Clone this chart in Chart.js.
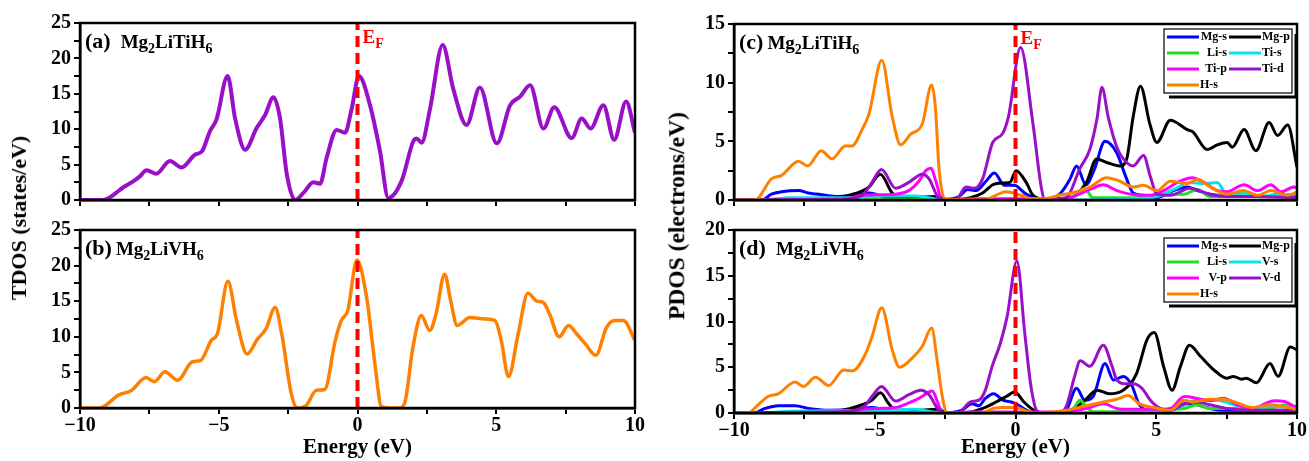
<!DOCTYPE html>
<html>
<head>
<meta charset="utf-8">
<script src="https://cdn.jsdelivr.net/npm/chart.js@4.4.0/dist/chart.umd.min.js"></script>
<style>
  body { margin: 0; background: #fff; width: 1309px; height: 461px; position: relative; overflow: hidden; }
  canvas { position: absolute; }
  .ytitle {
    position: absolute; white-space: nowrap; line-height: 1;
    font-family: "Liberation Serif", "Times New Roman", serif; font-weight: bold; color: #000;
    transform: translate(-50%, -50%) rotate(-90deg);
  }
</style>
</head>
<body>
<canvas id="chartA" width="660" height="215" style="left:0;top:0"></canvas>
<canvas id="chartB" width="660" height="246" style="left:0;top:215px"></canvas>
<canvas id="chartC" width="649" height="215" style="left:660px;top:0"></canvas>
<canvas id="chartD" width="649" height="246" style="left:660px;top:215px"></canvas>
<div class="ytitle" style="left:19px;top:218px;font-size:22px">TDOS (states/eV)</div>
<div class="ytitle" style="left:677px;top:216px;font-size:23.5px">PDOS (electrons/eV)</div>
<script>
// Fermi level and axis limits
var fermiLevel = 0;
var energyMin = -10, energyMax = 10;
var tdosMax = 25, pdosTiMax = 15, pdosVMax = 20;

// (a) TDOS Mg2LiTiH6
var tdosTiE = [-10, -9.2, -9.0, -8.7, -8.44, -8.1, -7.85, -7.6, -7.25, -6.76, -6.34, -5.86, -5.6, -5.32, -5.08, -4.68, -4.41, -4.05, -3.63, -3.33, -3.03, -2.79, -2.55, -2.25, -1.95, -1.59, -1.35, -1.11, -0.75, -0.45, -0.21, 0.05, 0.45, 0.81, 1.11, 1.59, 2.01, 2.13, 2.31, 2.61, 3.07, 3.45, 3.93, 4.41, 5.02, 5.5, 5.86, 6.22, 6.7, 7.09, 7.72, 8.08, 8.4, 8.86, 9.25, 9.68, 10];
var tdosTi = [0, 0, 0.2, 1.0, 1.8, 2.6, 3.3, 4.2, 3.7, 5.5, 4.6, 6.4, 6.9, 9.7, 11.4, 17.5, 11.5, 7.1, 10.2, 12, 14.5, 11.5, 3.7, 0, 1.0, 2.5, 2.3, 6.0, 9.9, 9.5, 12.9, 17.5, 13.4, 6.9, 0.3, 2.7, 8.3, 8.7, 8.1, 12.8, 21.9, 15.7, 10.6, 15.9, 8.0, 13.4, 14.6, 16.2, 10.1, 13.1, 8.75, 11.5, 10.1, 13.4, 8.5, 13.9, 9.5];

// (b) TDOS Mg2LiVH6
var tdosVE = [-10, -9.29, -8.6, -8.15, -7.62, -7.32, -6.94, -6.48, -5.95, -5.65, -5.27, -5.05, -4.67, -4.36, -3.98, -3.6, -3.3, -2.97, -2.73, -2.39, -2.17, -1.86, -1.48, -1.18, -0.8, -0.58, -0.35, -0.02, 0.33, 0.64, 0.86, 1.2, 1.5, 1.7, 2.0, 2.3, 2.6, 2.83, 3.14, 3.36, 3.59, 4.05, 4.58, 4.95, 5.18, 5.44, 5.79, 6.14, 6.47, 6.7, 6.92, 7.27, 7.6, 7.9, 8.21, 8.59, 8.97, 9.27, 9.58, 10];
var tdosV = [0, 0, 1.85, 2.45, 4.3, 3.7, 5.1, 3.9, 6.5, 6.7, 9.5, 10.4, 17.8, 12.3, 7.6, 9.7, 11.1, 14.1, 10.4, 2.1, 0, 0.3, 2.5, 2.6, 9.5, 12.3, 13.7, 20.8, 15.5, 5.8, 0.2, 0, 0, 0.7, 8.6, 13.0, 10.9, 13.2, 18.8, 15.0, 11.6, 12.7, 12.5, 12.3, 9.5, 4.4, 10.4, 16.1, 15.0, 14.8, 13.2, 10.0, 11.6, 10.4, 9.0, 7.4, 11.3, 12.3, 12.3, 9.5];

// (c) PDOS Mg2LiTiH6
var tiLabels = ["Mg-s", "Mg-p", "Li-s", "Ti-s", "Ti-p", "Ti-d", "H-s"];
var msTiE = [-10, -9.0, -8.67, -8.31, -7.71, -7.36, -6.88, -6.29, -5.69, -5.21, -4.98, -4.62, -3.5, -2.6, -2.0, -1.7, -1.4, -1.05, -0.75, -0.39, -0.05, 0.38, 0.98, 1.57, 1.93, 2.17, 2.5, 2.8, 3.18, 3.6, 3.9, 4.18, 4.55, 5.02, 5.62, 6.1, 6.46, 6.93, 7.5, 8.5, 9.5, 10];
var msTi = [0, 0, 0.5, 0.7, 0.8, 0.6, 0.45, 0.3, 0.4, 0.6, 0.5, 0.2, 0.1, 0.05, 0.3, 0.9, 0.8, 1.6, 2.3, 1.25, 1.25, 0.5, 0, 0.5, 1.75, 2.9, 1.3, 2.6, 5.0, 4.0, 2.1, 0.6, 0.4, 0.2, 0.8, 1.1, 0.8, 0.5, 0.35, 0.3, 0.3, 0.3];
var mpTiE = [-10, -6.7, -5.69, -5.21, -4.8, -4.38, -4.02, -3.3, -2.7, -2.5, -1.6, -1.17, -0.81, -0.45, -0.2, 0.02, 0.38, 0.62, 0.99, 1.93, 2.52, 2.88, 3.24, 3.71, 3.95, 4.18, 4.44, 4.77, 5.02, 5.5, 6.1, 6.3, 6.81, 7.17, 7.52, 7.7, 8.12, 8.54, 9.01, 9.31, 9.67, 10];
var mpTi = [0, 0.1, 0.55, 1.1, 2.2, 0.6, 0.2, 0.25, 0.3, 0, 0.2, 0.6, 1.3, 1.45, 1.5, 2.5, 1.5, 0.4, 0.1, 0.2, 1.5, 3.5, 3.2, 2.9, 3.5, 7.1, 9.7, 6.5, 4.9, 6.8, 6.0, 5.8, 4.3, 4.7, 4.9, 4.5, 6.0, 4.2, 6.6, 5.5, 6.4, 2.8];
var lsTiE = [-10, -9.0, -3.0, -2.6, 1.8, 2.17, 2.46, 2.75, 4.5, 5.5, 6.0, 6.46, 6.9, 7.5, 8.1, 8.8, 9.4, 9.9, 10];
var lsTi = [0, 0, 0.05, 0, 0, 0.5, 1.0, 0.2, 0.2, 0.5, 0.5, 0.9, 0.3, 0.4, 0.6, 0.3, 0.6, 1.1, 1.0];
var tsTiE = [-10, -9.0, -8.0, -6.0, -4.5, -3.55, -3.0, -2.6, 2.0, 4.0, 5.02, 5.7, 6.2, 6.7, 7.17, 7.5, 8.1, 8.7, 9.3, 9.9, 10];
var tsTi = [0, 0, 0.2, 0.2, 0.35, 0.35, 0.15, 0, 0, 0.1, 0.3, 1.0, 1.5, 1.4, 1.5, 0.5, 0.6, 0.3, 0.4, 0.5, 0.5];
var tpTiE = [-10, -6.0, -5.45, -4.86, -4.26, -3.79, -3.43, -3.19, -3.0, -2.83, -2.6, -1.5, 1.0, 1.8, 2.17, 2.64, 3.12, 3.6, 4.06, 4.79, 5.26, 5.85, 6.27, 6.7, 7.17, 7.5, 8.12, 8.6, 9.07, 9.43, 9.9, 10];
var tpTi = [0, 0.1, 0.4, 0.45, 0.5, 0.8, 1.6, 2.5, 2.7, 1.6, 0, 0.1, 0.1, 0.1, 0.4, 0.9, 1.3, 0.8, 0.5, 0.4, 0.8, 1.6, 1.9, 1.5, 0.8, 0.7, 1.3, 0.8, 1.3, 0.7, 1.1, 1.0];
var tdTiE = [-10, -6.64, -5.45, -5.1, -4.76, -4.26, -3.79, -3.31, -3.07, -2.77, -2.6, -2.12, -1.76, -1.46, -1.17, -0.81, -0.45, -0.25, 0.18, 0.62, 0.92, 1.05, 1.8, 2.29, 2.64, 2.9, 3.07, 3.3, 3.6, 3.83, 4.18, 4.55, 4.79, 5.02, 5.5, 6.2, 7.0, 7.5, 8.5, 10];
var tdTi = [0, 0, 0.4, 1.5, 2.6, 1.0, 1.5, 2.2, 1.8, 0.3, 0, 0, 1.1, 1.0, 1.8, 4.9, 5.7, 7.1, 13.0, 6.5, 1.0, 0, 0.2, 2.7, 4.3, 7.0, 9.6, 7.0, 4.5, 3.5, 2.9, 3.8, 2.0, 0.5, 0.4, 1.0, 0.4, 0.3, 0.3, 0.2];
var hsTiE = [-10, -9.26, -8.67, -8.31, -7.71, -7.38, -6.9, -6.52, -6.05, -5.81, -5.45, -5.21, -4.75, -4.38, -4.08, -3.73, -3.31, -2.98, -2.85, -2.71, -2.5, -1.1, -0.7, -0.34, 0.2, 0.6, 0.96, 1.57, 2.17, 2.64, 3.24, 3.71, 4.18, 4.54, 5.02, 5.5, 6.1, 6.46, 6.93, 7.52, 8.1, 8.6, 9.07, 9.67, 10];
var hsTi = [0, 0, 1.8, 2.1, 3.3, 2.9, 4.2, 3.5, 4.6, 4.6, 6.0, 7.3, 11.9, 7.1, 4.7, 5.6, 6.5, 9.8, 8.0, 2.5, 0.1, 0, 0.4, 0.7, 0.4, 0.1, 0.1, 0.4, 0.7, 1.1, 1.9, 1.6, 1.1, 1.25, 0.8, 1.6, 1.4, 1.75, 1.1, 0.5, 0.8, 0.4, 0.8, 0.4, 0.7];

// (d) PDOS Mg2LiVH6
var vLabels = ["Mg-s", "Mg-p", "Li-s", "V-s", "V-p", "V-d", "H-s"];
var msVE = [-10, -9.3, -8.9, -8.43, -7.83, -7.36, -6.64, -5.69, -5.1, -4.6, -3.5, -2.6, -1.9, -1.55, -1.3, -1.07, -0.77, -0.45, -0.15, 0.02, 0.4, 0.7, 1.5, 1.8, 2.17, 2.46, 2.76, 3.18, 3.48, 3.83, 4.12, 4.4, 4.79, 5.5, 6.0, 6.46, 6.9, 7.5, 8.5, 10];
var msV = [0, 0, 0.5, 0.8, 0.8, 0.5, 0.3, 0.4, 0.6, 0.3, 0.15, 0, 0.3, 1.0, 0.8, 1.6, 2.1, 1.4, 1.2, 1.0, 0.3, 0, 0, 0.3, 2.7, 1.4, 1.8, 5.4, 3.6, 4.0, 3.1, 0.9, 0.3, 0.3, 1.0, 0.9, 0.5, 0.3, 0.3, 0.3];
var mpVE = [-10, -6.6, -5.93, -5.45, -5.1, -4.8, -4.5, -4.26, -3.5, -2.7, -2.5, -1.6, -1.17, -0.69, -0.33, -0.03, 0.3, 0.65, 0.9, 1.7, 2.4, 2.9, 3.33, 3.83, 4.3, 4.67, 4.93, 5.26, 5.56, 5.86, 6.18, 6.57, 7.05, 7.5, 7.74, 8.04, 8.2, 8.56, 9.04, 9.33, 9.76, 10];
var mpV = [0, 0.1, 0.45, 0.9, 1.4, 2.2, 1.0, 0.3, 0.3, 0.4, 0, 0.1, 0.5, 1.2, 1.8, 2.3, 1.2, 0.3, 0, 0, 1.2, 2.5, 2.1, 2.5, 4.3, 8.0, 8.8, 5.1, 2.5, 5.1, 7.4, 6.2, 4.7, 3.8, 4.0, 3.7, 3.8, 3.3, 5.4, 4.0, 7.2, 6.9];
var lsVE = [-10, -9.0, -3.0, -2.6, 1.8, 2.06, 2.29, 2.52, 2.75, 4.5, 5.5, 6.0, 6.46, 6.9, 7.5, 8.1, 8.8, 9.67, 10];
var lsV = [0, 0, 0.05, 0, 0, 0.5, 1.4, 0.7, 0.15, 0.2, 0.4, 0.5, 0.9, 0.5, 0.5, 0.5, 0.4, 0.9, 0.7];
var vsE = [-10, -9.0, -8.0, -6.0, -4.5, -3.55, -3.0, -2.6, 2.0, 4.0, 5.0, 5.7, 6.46, 7.17, 7.6, 8.1, 8.6, 9.07, 9.9, 10];
var vs = [0, 0, 0.2, 0.25, 0.3, 0.4, 0.15, 0, 0, 0.1, 0.2, 0.5, 1.4, 1.4, 1.05, 0.6, 0.5, 0.8, 0.6, 0.6];
var vpE = [-10, -6.0, -5.45, -4.86, -4.26, -3.79, -3.43, -3.07, -2.95, -2.77, -2.6, -1.5, 1.0, 1.8, 2.17, 2.64, 3.12, 3.6, 4.06, 4.9, 5.5, 6.0, 6.46, 6.9, 7.4, 7.88, 8.4, 9.2, 9.55, 10];
var vp = [0, 0.1, 0.4, 0.5, 0.6, 1.1, 1.6, 2.3, 2.4, 1.2, 0, 0.1, 0.1, 0.1, 0.3, 0.6, 1.0, 0.5, 0.4, 0.4, 0.5, 1.8, 1.6, 1.35, 1.6, 0.9, 0.5, 1.35, 1.25, 0.5];
var vdE = [-10, -6.64, -5.45, -5.1, -4.76, -4.26, -3.79, -3.37, -3.07, -2.77, -2.55, -2.0, -1.9, -1.6, -1.3, -1.07, -0.83, -0.54, -0.3, 0.05, 0.33, 0.55, 0.77, 1.0, 1.5, 1.8, 2.1, 2.3, 2.64, 3.12, 3.43, 3.6, 3.9, 4.18, 4.49, 4.79, 5.14, 5.5, 6.0, 6.46, 6.9, 7.5, 8.5, 10];
var vd = [0, 0.1, 0.5, 1.8, 2.9, 1.3, 2.0, 2.5, 2.0, 0.5, 0, 0, 0.3, 1.2, 1.4, 2.5, 5.1, 7.6, 10.5, 16.6, 8.7, 2.9, 0.2, 0, 0, 0.7, 4.0, 5.7, 5.1, 7.4, 5.1, 3.6, 3.2, 3.2, 2.7, 1.4, 0.5, 0.3, 1.0, 1.2, 0.9, 0.5, 0.3, 0.3];
var hsVE = [-10, -9.5, -9.14, -8.79, -8.43, -7.83, -7.54, -7.1, -6.64, -6.1, -5.79, -5.33, -5.1, -4.75, -4.38, -4.12, -3.67, -3.31, -2.98, -2.77, -2.6, -2.43, -1.2, -0.8, -0.4, 0.02, 0.4, 0.7, 1.8, 2.52, 3.12, 3.6, 4.0, 4.4, 4.9, 5.5, 6.0, 6.3, 6.9, 7.4, 7.8, 8.4, 9.07, 9.67, 10];
var hsV = [0, 0, 0.9, 1.8, 2.1, 3.4, 2.9, 3.9, 3.0, 4.7, 4.6, 6.45, 8.3, 11.5, 6.9, 5.0, 6.0, 7.3, 9.3, 5.4, 1.8, 0, 0, 0.5, 0.6, 0.6, 0.2, 0, 0.3, 0.8, 1.2, 1.5, 1.9, 1.0, 0.6, 0.3, 1.4, 1.2, 1.5, 1.5, 1.2, 0.6, 0.9, 0.6, 0.4];

var FONT = '"Liberation Serif", "Times New Roman", serif';
var pdosColors = ["#0000FF", "#000000", "#22DD22", "#00E5EE", "#FF00FF", "#9A10C8", "#FF8000"];
// higher number = drawn further below
var pdosOrder = [7, 6, 5, 4, 3, 2, 1];

function curve(xs, ys) {
  return xs.map(function (x, i) { return { x: x, y: ys[i] }; });
}

function series(label, xs, ys, color, width, order) {
  return {
    label: label, data: curve(xs, ys), borderColor: color, borderWidth: width,
    pointRadius: 0, fill: false, cubicInterpolationMode: "monotone", order: order,
  };
}

function fermiSet(top) {
  return {
    label: "EF", isFermi: true, data: [{ x: fermiLevel, y: 0 }, { x: fermiLevel, y: top }],
    borderColor: "#FF0000", borderWidth: 4, borderDash: [11, 6], pointRadius: 0, order: 0,
  };
}

// text with subscripts, e.g. Mg2LiTiH6
function drawParts(ctx, parts, x, y, size, color) {
  ctx.fillStyle = color;
  parts.forEach(function (p) {
    var sub = p[1];
    ctx.font = "bold " + (sub ? Math.round(size * 0.72) : size) + "px " + FONT;
    ctx.fillText(p[0], x, sub ? y + size * 0.28 : y);
    x += ctx.measureText(p[0]).width;
  });
}

function formulaParts(text) {
  return text.split(/(\d+)/).filter(function (s) { return s; }).map(function (s) {
    return [s, /^\d+$/.test(s)];
  });
}

var decorPlugin = {
  id: "decor",
  afterDatasetsDraw: function (chart, args, opts) {
    var ctx = chart.ctx, a = chart.chartArea;
    ctx.save();
    ctx.strokeStyle = "#000";
    ctx.lineWidth = 2.5;
    ctx.strokeRect(a.left, a.top, a.right - a.left, a.bottom - a.top);

    ctx.textBaseline = "alphabetic";
    ctx.textAlign = "left";
    ctx.fillStyle = "#000";
    ctx.font = "bold 22px " + FONT;
    var ly = a.top + 25;
    ctx.fillText(opts.tag, a.left + 5, ly);
    var fx = a.left + 5 + ctx.measureText(opts.tag).width + opts.gap;
    drawParts(ctx, formulaParts(opts.formula), fx, ly, 19, "#000");

    if (opts.showEF) {
      var xf = chart.scales.x.getPixelForValue(fermiLevel);
      drawParts(ctx, [["E", false], ["F", true]], xf + 5, a.top + 20, 19, "#FF0000");
    }

    if (opts.legend) {
      var sets = chart.data.datasets.filter(function (d) { return !d.isFermi; });
      var w = 128, h = 64, bx = a.right - w - 5, by = a.top + opts.legendTop;
      ctx.fillStyle = "#fff";
      ctx.fillRect(bx, by, w, h);
      ctx.lineWidth = 1.2;
      ctx.strokeRect(bx, by, w, h);
      ctx.lineWidth = 3;
      ctx.beginPath();
      ctx.moveTo(bx + w + 4, by + 5);
      ctx.lineTo(bx + w + 4, by + h + 4);
      ctx.lineTo(bx + 5, by + h + 4);
      ctx.stroke();
      ctx.font = "bold 12px " + FONT;
      ctx.textBaseline = "middle";
      sets.forEach(function (d, i) {
        var col = i % 2, row = Math.floor(i / 2);
        var cy = by + 8 + row * 16;
        var lx = col === 0 ? bx + 3 : bx + 65;
        ctx.strokeStyle = d.borderColor;
        ctx.lineWidth = 3;
        ctx.beginPath();
        ctx.moveTo(lx, cy);
        ctx.lineTo(lx + 32, cy);
        ctx.stroke();
        ctx.fillStyle = "#000";
        if (col === 0 && i + 1 < sets.length) {
          ctx.textAlign = "right";
          ctx.fillText(d.label, bx + 63, cy);
        } else {
          ctx.textAlign = "left";
          ctx.fillText(d.label, lx + 33, cy);
        }
      });
    }
    ctx.restore();
  },
};

function fmt(v) {
  if (v % 5 !== 0) return "";
  return v < 0 ? "\u2212" + Math.abs(v) : String(v);
}

function makeChart(id, o) {
  var tickFont = { family: FONT, size: 20, weight: "bold" };
  return new Chart(document.getElementById(id), {
    type: "line",
    data: { datasets: o.datasets },
    options: {
      responsive: false,
      animation: false,
      events: [],
      layout: { padding: o.padding },
      scales: {
        x: {
          type: "linear", min: energyMin, max: energyMax,
          afterFit: function (s) { s.height = o.xHeight; },
          ticks: {
            stepSize: 2.5, autoSkip: false, maxRotation: 0, padding: 0, color: "#000", font: tickFont,
            callback: function (v) { return o.xLabels ? fmt(v) : ""; },
          },
          grid: { drawOnChartArea: false, tickLength: 6, color: "#000", lineWidth: 2 },
          border: { color: "#000", width: 2.5 },
          title: {
            display: o.xLabels, text: "Energy (eV)", color: "#000",
            font: { family: FONT, size: 21, weight: "bold" }, padding: { top: 0, bottom: 1 },
          },
        },
        y: {
          min: 0, max: o.ymax,
          afterFit: function (s) { s.width = o.yWidth; },
          ticks: {
            stepSize: 2.5, autoSkip: false, padding: 3, color: "#000", font: tickFont,
            callback: function (v) { return v % 5 === 0 ? String(v) : ""; },
          },
          grid: { drawOnChartArea: false, tickLength: 6, color: "#000", lineWidth: 2 },
          border: { color: "#000", width: 2.5 },
        },
      },
      plugins: { legend: { display: false }, tooltip: { enabled: false }, decor: o.decor },
    },
    plugins: [decorPlugin],
  });
}

function pdosSets(labels, xsList, ysList, top) {
  var sets = [fermiSet(top)];
  labels.forEach(function (lab, i) {
    sets.push(series(lab, xsList[i], ysList[i], pdosColors[i], 3, pdosOrder[i]));
  });
  return sets;
}

makeChart("chartA", {
  datasets: [fermiSet(tdosMax), series("TDOS", tdosTiE, tdosTi, "#9A10C8", 4, 1)],
  padding: { top: 23, right: 25, left: 0, bottom: 0 },
  xHeight: 12, yWidth: 80, ymax: tdosMax, xLabels: false,
  decor: { tag: "(a)", formula: "Mg2LiTiH6", gap: 10, showEF: true },
});

makeChart("chartB", {
  datasets: [fermiSet(tdosMax), series("TDOS", tdosVE, tdosV, "#FF8000", 3.5, 1)],
  padding: { top: 13, right: 25, left: 0, bottom: 0 },
  xHeight: 53, yWidth: 80, ymax: tdosMax, xLabels: true,
  decor: { tag: "(b)", formula: "Mg2LiVH6", gap: 4, showEF: false },
});

makeChart("chartC", {
  datasets: pdosSets(tiLabels, [msTiE, mpTiE, lsTiE, tsTiE, tpTiE, tdTiE, hsTiE], [msTi, mpTi, lsTi, tsTi, tpTi, tdTi, hsTi], pdosTiMax),
  padding: { top: 24, right: 12, left: 0, bottom: 0 },
  xHeight: 10, yWidth: 74, ymax: pdosTiMax, xLabels: false,
  decor: { tag: "(c)", formula: "Mg2LiTiH6", gap: 4, showEF: true, legend: true, legendTop: 5 },
});

makeChart("chartD", {
  datasets: pdosSets(vLabels, [msVE, mpVE, lsVE, vsE, vpE, vdE, hsVE], [msV, mpV, lsV, vs, vp, vd, hsV], pdosVMax),
  padding: { top: 15, right: 12, left: 0, bottom: 0 },
  xHeight: 48, yWidth: 74, ymax: pdosVMax, xLabels: true,
  decor: { tag: "(d)", formula: "Mg2LiVH6", gap: 10, showEF: false, legend: true, legendTop: 8 },
});
</script>
</body>
</html>
